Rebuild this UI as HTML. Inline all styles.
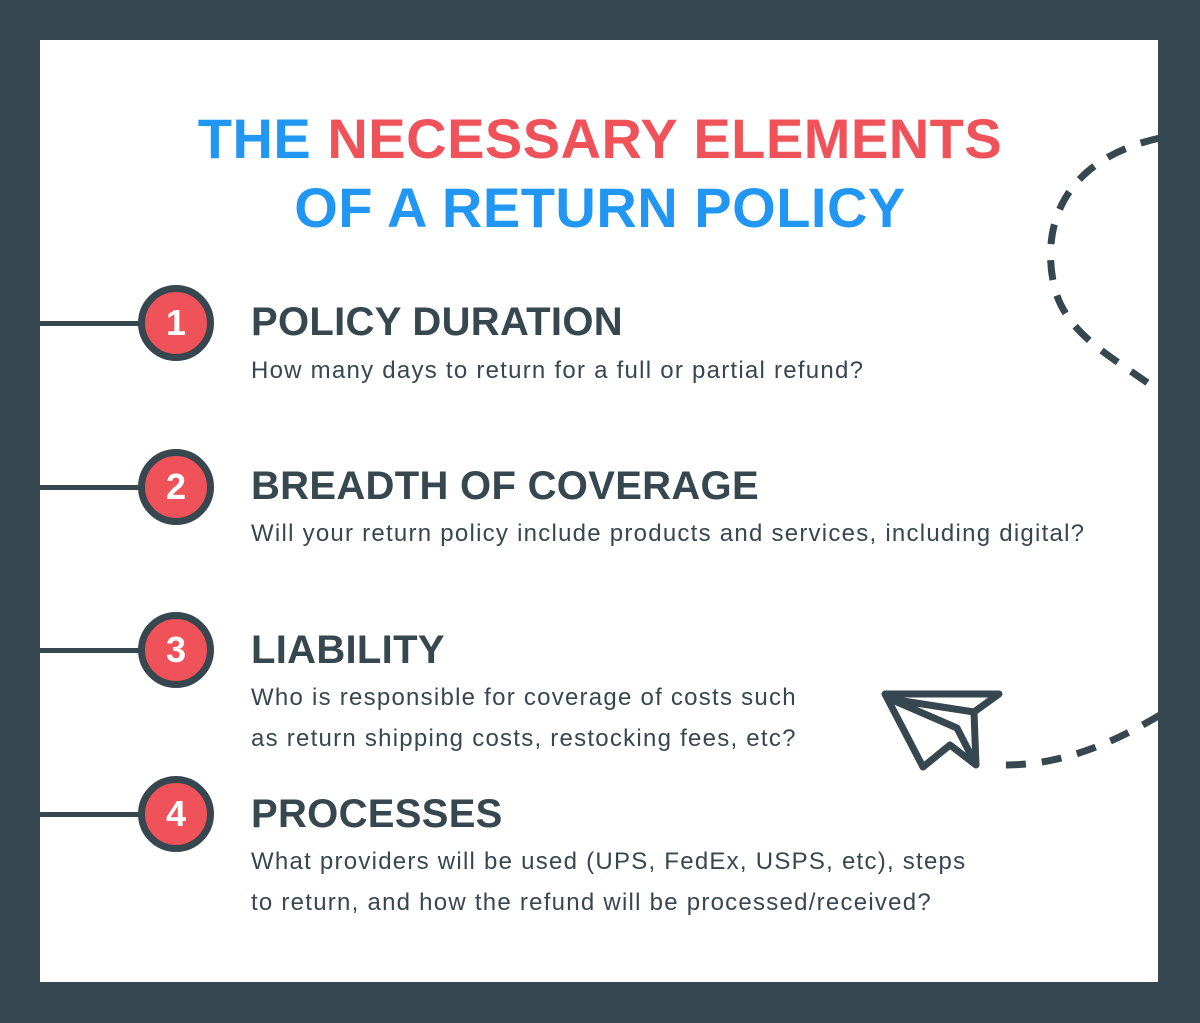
<!DOCTYPE html>
<html><head><meta charset="utf-8"><style>
html,body{margin:0;padding:0}
body{width:1200px;height:1023px;background:#36474f;position:relative;overflow:hidden;font-family:"Liberation Sans",sans-serif}
.in{position:absolute;left:40px;top:40px;width:1118px;height:942px;background:#fff}
.t{position:absolute;left:0;width:1200px;text-align:center;font-weight:bold;font-size:56px;color:#2196f3;letter-spacing:0.5px}
.r{color:#f0525a}
.c{position:absolute;left:138px;width:62px;height:62px;border:7px solid #36474f;border-radius:50%;background:#f0525a;color:#fff;font-weight:bold;font-size:36px;text-align:center;line-height:62px}
.l{position:absolute;left:40px;width:100px;height:5px;background:#36474f}
.h{position:absolute;left:251px;font-weight:bold;font-size:40px;color:#36474f;letter-spacing:0.3px}
.p{position:absolute;left:251px;font-size:24px;color:#36474f;line-height:41px;letter-spacing:1.25px}
</style></head><body>
<div class="in"></div>
<svg style="position:absolute;left:0;top:0" width="1200" height="1023">
<path d="M1160,138 C1060,160 1040,230 1055,290 C1070,340 1120,360 1165,396" fill="none" stroke="#36474f" stroke-width="7" stroke-dasharray="20,16"/>
<path d="M1160,715 C1110,745 1060,765 1005,765" fill="none" stroke="#36474f" stroke-width="7" stroke-dasharray="20,16"/>
<g fill="none" stroke="#36474f" stroke-width="7" stroke-linejoin="round">
<path d="M885,694 L999,694 L974,712 L976,765 L950,745 L923,767 Z"/>
<path d="M890,699 L974,712"/>
<path d="M890,699 L957,728 L976,765"/>
</g>
</svg>
<div class="t" style="top:106px">THE <span class="r">NECESSARY ELEMENTS</span></div>
<div class="t" style="top:175px">OF A RETURN POLICY</div>

<div class="l" style="top:321px"></div><div class="c" style="top:285px">1</div>
<div class="h" style="top:300px">POLICY DURATION</div>
<div class="p" style="top:350px">How many days to return for a full or partial refund?</div>

<div class="l" style="top:485px"></div><div class="c" style="top:449px">2</div>
<div class="h" style="top:464px">BREADTH OF COVERAGE</div>
<div class="p" style="top:513px">Will your return policy include products and services, including digital?</div>

<div class="l" style="top:648px"></div><div class="c" style="top:612px">3</div>
<div class="h" style="top:628px">LIABILITY</div>
<div class="p" style="top:677px">Who is responsible for coverage of costs such<br>as return shipping costs, restocking fees, etc?</div>

<div class="l" style="top:812px"></div><div class="c" style="top:776px">4</div>
<div class="h" style="top:792px">PROCESSES</div>
<div class="p" style="top:841px">What providers will be used (UPS, FedEx, USPS, etc), steps<br>to return, and how the refund will be processed/received?</div>
</body></html>
